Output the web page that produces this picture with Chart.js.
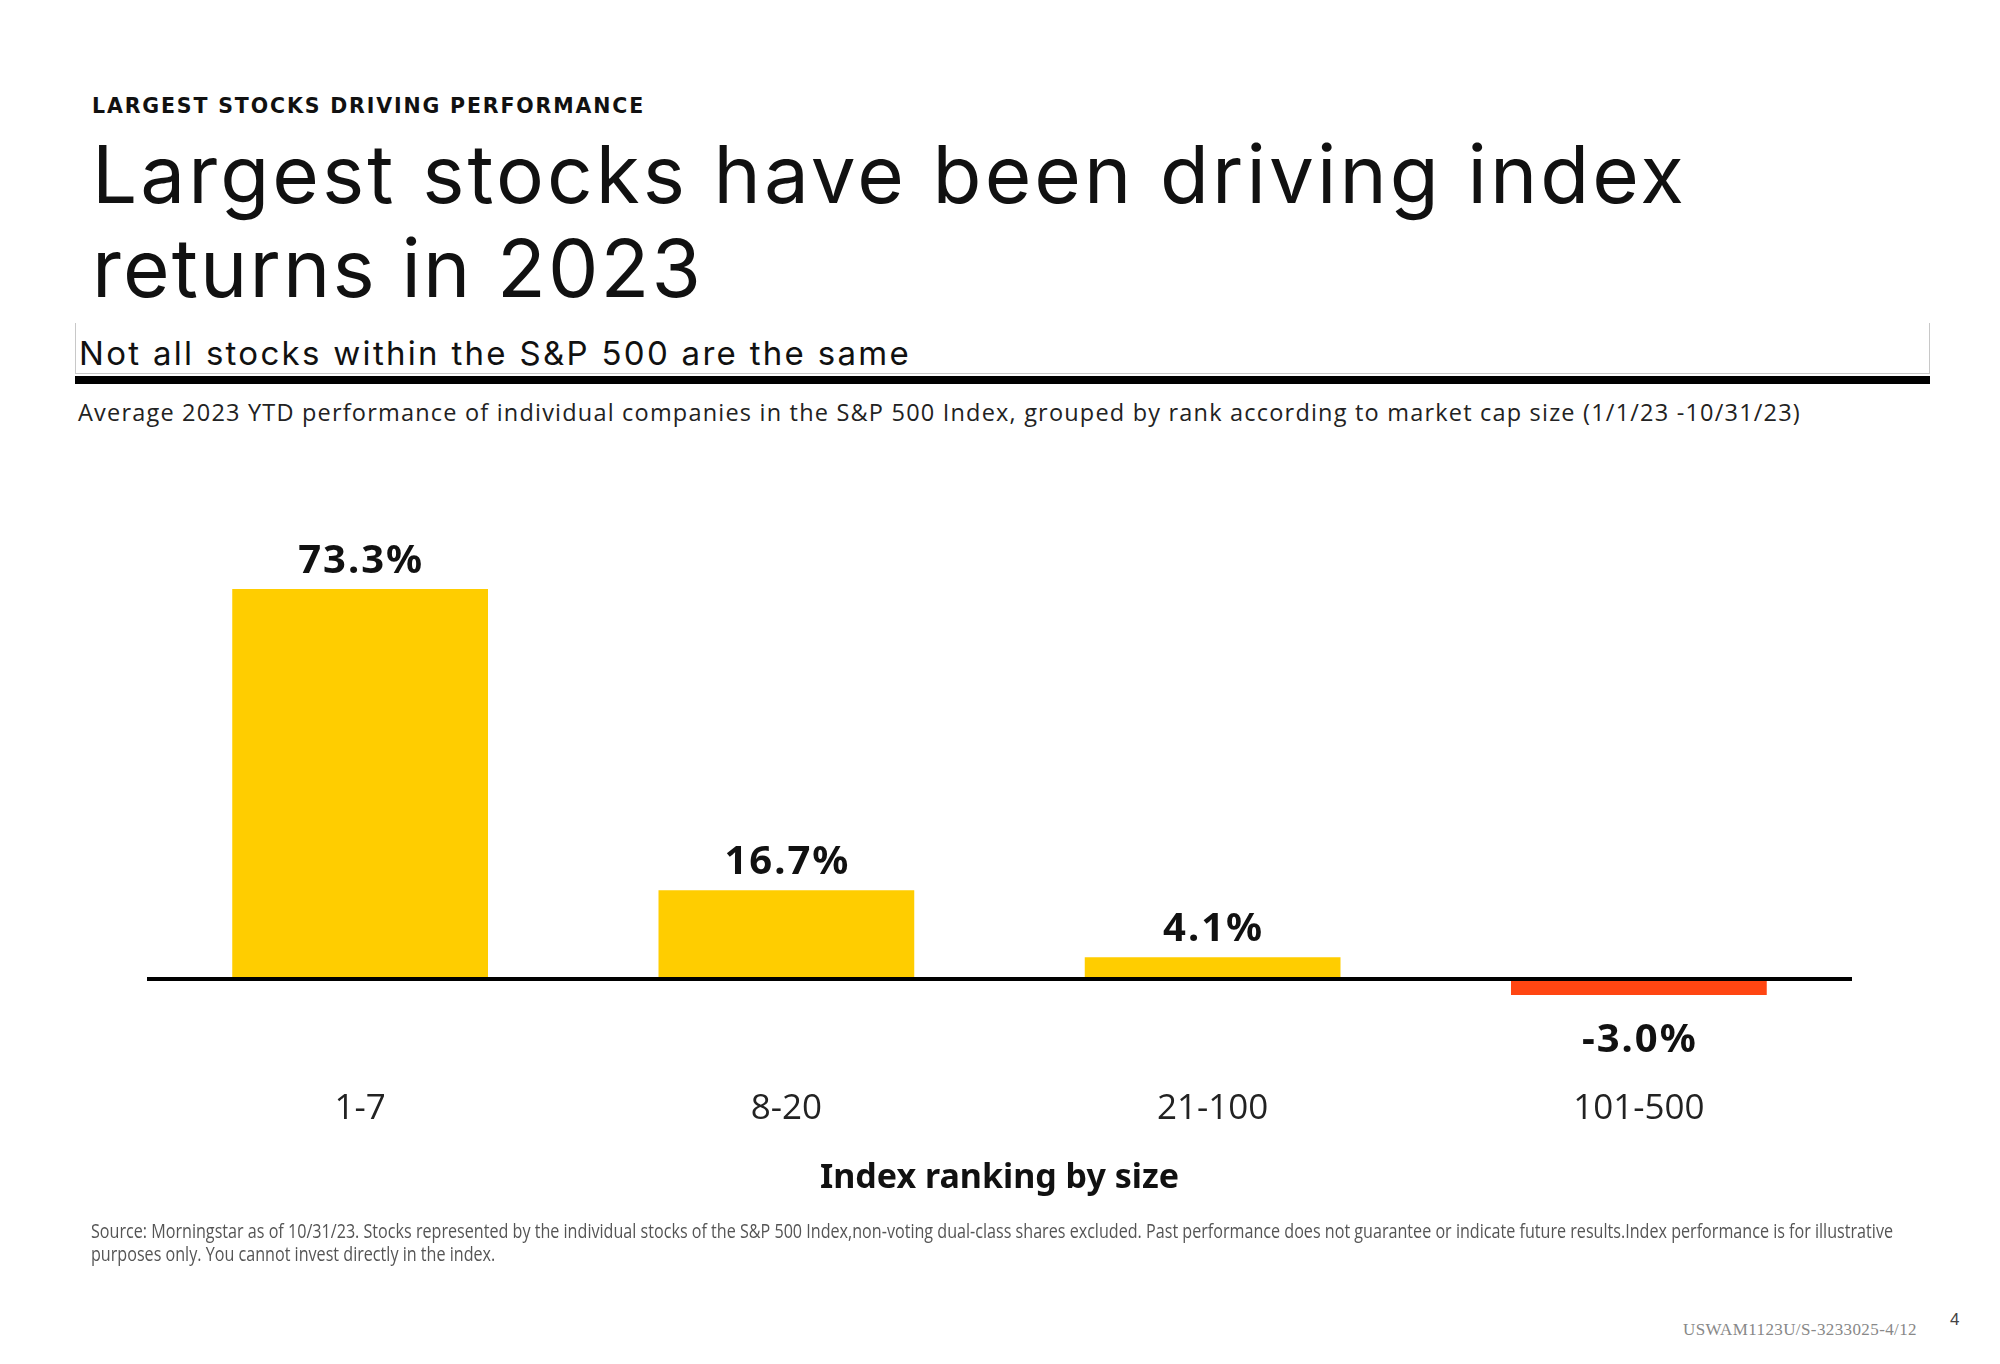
<!DOCTYPE html>
<html>
<head>
<meta charset="utf-8">
<script src="https://cdn.jsdelivr.net/npm/chart.js@4.4.1/dist/chart.umd.min.js"></script>
<style>
  html, body { margin:0; padding:0; background:#fff; }
  body { width:2000px; height:1364px; position:relative; overflow:hidden; }
  .t { position:absolute; white-space:nowrap; margin:0; }
  #kicker { font-family:"DejaVu Sans","Noto Sans",sans-serif; font-weight:700; font-size:20.5px; color:#111; }
  .title { font-family:"Inter","Noto Sans",sans-serif; font-weight:400; font-size:80px; color:#111; }
  #sub { font-family:"Inter","Noto Sans",sans-serif; font-weight:400; font-size:33px; color:#111; }
  #desc { font-family:"Open Sans",sans-serif; font-size:23.5px; color:#222; }
  .src { font-family:"Open Sans",sans-serif; font-size:19.5px; color:#555; transform-origin:0 0; }
  #code { font-family:"Liberation Serif",serif; font-size:17px; color:#888; }
  #pg { font-family:"Liberation Sans",sans-serif; font-size:17px; color:#444; }
  #box { position:absolute; left:75px; top:323px; width:1855px; height:51px; border-left:1.5px solid #c8c8c8; border-right:1.5px solid #c8c8c8; border-bottom:1.5px solid #c8c8c8; box-sizing:border-box; }
  #bar { position:absolute; left:75px; top:376px; width:1855px; height:8px; background:#000; }
  #wrap { position:absolute; left:0; top:500px; width:2000px; height:720px; }
</style>
</head>
<body>
<div class="t" id="kicker" data-x="92" data-b="113" data-w="553">LARGEST STOCKS DRIVING PERFORMANCE</div>
<div class="t title" id="title1" data-x="92" data-b="203" data-w="1595">Largest stocks have been driving index</div>
<div class="t title" id="title2" data-x="92" data-b="297" data-w="611">returns in 2023</div>
<div id="box"></div>
<div id="bar"></div>
<div class="t" id="sub" data-x="79" data-b="365" data-w="832">Not all stocks within the S&amp;P 500 are the same</div>
<div class="t" id="desc" data-x="78" data-b="421" data-w="1723">Average 2023 YTD performance of individual companies in the S&amp;P 500 Index, grouped by rank according to market cap size (1/1/23 -10/31/23)</div>
<div id="wrap"><canvas id="c"></canvas></div>
<div class="t src" id="src1" data-x="91" data-b="1238" data-s="1802">Source: Morningstar as of 10/31/23. Stocks represented by the individual stocks of the S&amp;P 500 Index,non-voting dual-class shares excluded. Past performance does not guarantee or indicate future results.Index performance is for illustrative</div>
<div class="t src" id="src2" data-x="91" data-b="1261">purposes only. You cannot invest directly in the index.</div>
<div class="t" id="code" data-x="1683" data-b="1335" data-w="234">USWAM1123U/S-3233025-4/12</div>
<div class="t" id="pg" data-x="1950" data-b="1325">4</div>

<script>
// ---- data ----
const categories = ['1-7', '8-20', '21-100', '101-500'];
const returnsPct = [73.3, 16.7, 4.1, -3.0];
const axisTitle = 'Index ranking by size';
const positiveColor = '#FFCD00';
const negativeColor = '#FF4612';

// ---- text placement ----
function place(el) {
  el.style.left = el.dataset.x + 'px';
  el.style.top = '0px';
  const w = parseFloat(el.dataset.w);
  if (w) {
    el.style.letterSpacing = '0px';
    const nat = el.getBoundingClientRect().width;
    const n = el.textContent.length;
    el.style.letterSpacing = ((w - nat) / n) + 'px';
  }
  const m = document.createElement('span');
  m.style.display = 'inline-block'; m.style.width = '0'; m.style.height = '0'; m.style.verticalAlign = 'baseline';
  el.appendChild(m);
  const off = m.offsetTop;
  m.remove();
  el.style.top = (parseFloat(el.dataset.b) - off) + 'px';
}
let srcScale = 1;
function placeAll() {
  document.querySelectorAll('.t').forEach(el => {
    if (el.classList.contains('src')) {
      el.style.transform = 'none';
      place(el);
      if (el.dataset.s) {
        srcScale = parseFloat(el.dataset.s) / el.getBoundingClientRect().width;
      }
    } else place(el);
  });
  document.querySelectorAll('.src').forEach(el => {
    el.style.transform = 'scaleX(' + srcScale + ')';
  });
}

// ---- chart ----
const zeroLine = {
  id: 'zeroLine',
  afterDatasetsDraw(chart) {
    const {ctx, chartArea, scales} = chart;
    const y = scales.y.getPixelForValue(0);
    ctx.save();
    ctx.strokeStyle = '#000';
    ctx.lineWidth = 4;
    ctx.beginPath();
    ctx.moveTo(chartArea.left, y);
    ctx.lineTo(chartArea.right, y);
    ctx.stroke();
    ctx.restore();
  }
};
const valueLabels = {
  id: 'valueLabels',
  afterDatasetsDraw(chart) {
    const {ctx} = chart;
    const meta = chart.getDatasetMeta(0);
    ctx.save();
    ctx.font = '700 40px "Noto Sans", sans-serif';
    ctx.fillStyle = '#111';
    ctx.textAlign = 'center';
    ctx.textBaseline = 'alphabetic';
    try { ctx.letterSpacing = '2px'; } catch (e) {}
    meta.data.forEach((el, i) => {
      const v = returnsPct[i];
      const txt = v.toFixed(1) + '%';
      const y = v >= 0 ? el.y - 16 : el.y + 57;
      ctx.fillText(txt, el.x + 1, y);
    });
    ctx.restore();
  }
};

function build() {
  placeAll();
  new Chart(document.getElementById('c'), {
    type: 'bar',
    data: {
      labels: categories,
      datasets: [{
        data: returnsPct,
        backgroundColor: returnsPct.map(v => v >= 0 ? positiveColor : negativeColor),
        borderWidth: 0,
        categoryPercentage: 0.6,
        barPercentage: 1.0
      }]
    },
    options: {
      responsive: true,
      maintainAspectRatio: false,
      animation: false,
      devicePixelRatio: 1,
      layout: { padding: { left: 147, right: 148, top: 53.4, bottom: 0 } },
      plugins: { legend: { display: false }, tooltip: { enabled: false } },
      scales: {
        x: {
          grid: { display: false, drawTicks: false },
          border: { display: false },
          ticks: { color: '#222', font: { family: '"Open Sans", sans-serif', size: 35 }, padding: 56 },
          title: { display: true, text: axisTitle, color: '#111', font: { family: '"Noto Sans", sans-serif', size: 34, weight: '700' }, padding: { top: 0, bottom: 21.5 } },
          afterFit(scale) { scale.height = 187.8; }
        },
        y: {
          display: false,
          min: -10,
          max: 80
        }
      }
    },
    plugins: [zeroLine, valueLabels]
  });
}
if (document.fonts && document.fonts.ready) {
  document.fonts.ready.then(build);
} else build();
</script>
</body>
</html>
